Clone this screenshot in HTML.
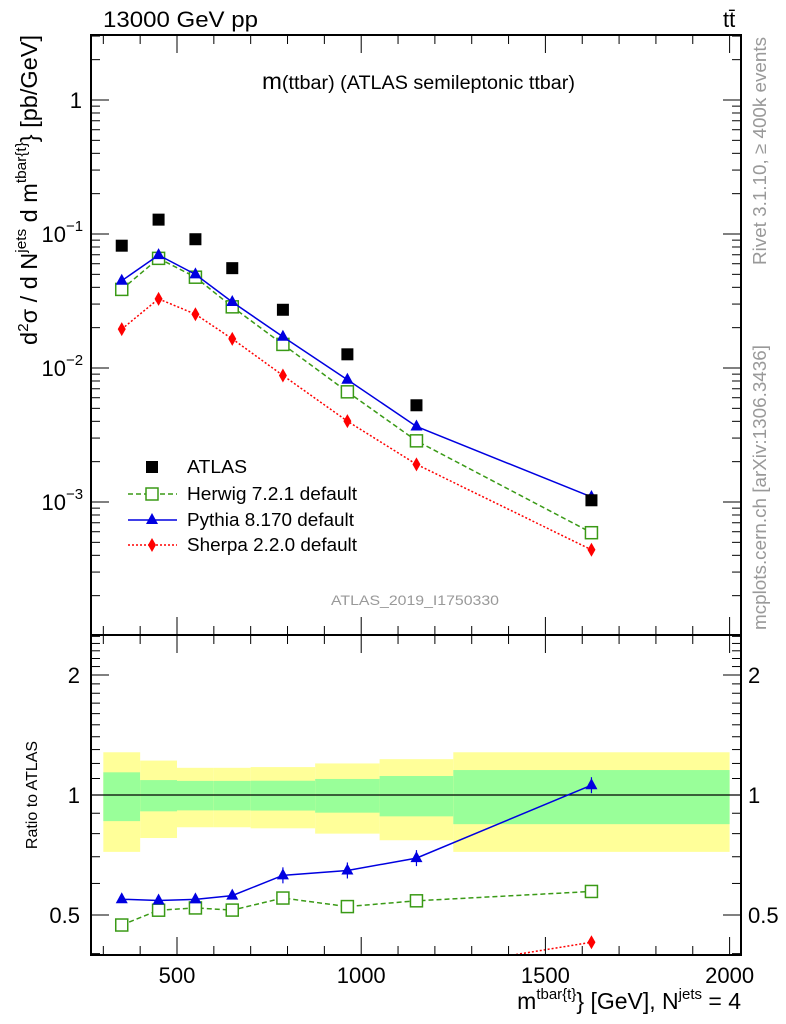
<!DOCTYPE html>
<html><head><meta charset="utf-8"><style>
html,body{margin:0;padding:0;background:#fff;}
svg{display:block;font-family:"Liberation Sans",sans-serif;}
</style></head><body>
<svg id="chart" width="786" height="1024" viewBox="0 0 786 1024" xmlns="http://www.w3.org/2000/svg">
<g id="bands"></g>
<g id="ratio"></g>
<g id="main"></g>
<g id="axes"></g>
<text x="103" y="27" font-size="22" textLength="155" lengthAdjust="spacingAndGlyphs">13000 GeV pp</text>
<text x="723" y="27" font-size="22">tt̄</text>
<text x="262" y="89" font-size="19" textLength="313" lengthAdjust="spacingAndGlyphs"><tspan font-size="23">m</tspan>(ttbar) (ATLAS semileptonic ttbar)</text>
<text x="415" y="605" font-size="14" fill="#999" text-anchor="middle" textLength="168" lengthAdjust="spacingAndGlyphs">ATLAS_2019_I1750330</text>
<text transform="translate(766,265) rotate(-90)" font-size="18" fill="#999" textLength="228" lengthAdjust="spacingAndGlyphs">Rivet 3.1.10, ≥ 400k events</text>
<text transform="translate(766,630) rotate(-90)" font-size="18" fill="#999" textLength="285" lengthAdjust="spacingAndGlyphs">mcplots.cern.ch [arXiv:1306.3436]</text>
<text transform="translate(37,345) rotate(-90)" font-size="23" textLength="310" lengthAdjust="spacingAndGlyphs">d<tspan font-size="15" dy="-9">2</tspan><tspan dy="9">σ  /  d N</tspan><tspan font-size="15" dy="-11">jets</tspan><tspan dy="11"> d m</tspan><tspan font-size="15" dy="-11">tbar{t}</tspan><tspan dy="11">} [pb/GeV]</tspan></text>
<text transform="translate(37,795) rotate(-90)" font-size="16" text-anchor="middle">Ratio to ATLAS</text>
<text x="741" y="1009" font-size="23" text-anchor="end">m<tspan font-size="15" dy="-10">tbar{t}</tspan><tspan dy="10">} [GeV], N</tspan><tspan font-size="15" dy="-10">jets</tspan><tspan dy="10"> = 4</tspan></text>
<g id="legend">
<rect x="146" y="461" width="12" height="12" fill="#000"/>
<text x="187" y="473" font-size="18" textLength="60" lengthAdjust="spacingAndGlyphs">ATLAS</text>
<line x1="128" y1="494" x2="177" y2="494" stroke="#3a9a16" stroke-width="1.5" stroke-dasharray="5,3"/>
<rect x="146" y="488" width="12" height="12" fill="#fff" stroke="#3a9a16" stroke-width="1.5"/>
<text x="187" y="500" font-size="18" textLength="170" lengthAdjust="spacingAndGlyphs">Herwig 7.2.1 default</text>
<line x1="128" y1="520" x2="177" y2="520" stroke="#0000e0" stroke-width="1.5"/>
<polygon points="152,513 158,524 146,524" fill="#0000e0"/>
<text x="187" y="526" font-size="18" textLength="167" lengthAdjust="spacingAndGlyphs">Pythia 8.170 default</text>
<line x1="128" y1="545" x2="177" y2="545" stroke="#f00" stroke-width="1.5" stroke-dasharray="2,2"/>
<polygon points="152,538 156,545 152,552 148,545" fill="#f00"/>
<text x="187" y="551" font-size="18" textLength="170" lengthAdjust="spacingAndGlyphs">Sherpa 2.2.0 default</text>
</g>
</svg>
<script>
const binEdges = [300,400,500,600,700,875,1050,1250,2000];
const binCenters = [350,450,550,650,787.5,962.5,1150,1625];
const atlas = [0.0818,0.128,0.0914,0.0556,0.0272,0.01265,0.00527,0.00103];
const herwig = [0.0386,0.0658,0.0476,0.0286,0.0150,0.00664,0.00286,0.00059];
const pythia = [0.0448,0.0696,0.050,0.0311,0.0171,0.00818,0.00366,0.00109];
const sherpa = [0.0195,0.0328,0.0252,0.0165,0.0088,0.00401,0.00191,0.00044];
const totErr = [0.28,0.22,0.17,0.17,0.175,0.2,0.23,0.28];
const statErr = [0.14,0.09,0.085,0.085,0.086,0.097,0.116,0.155];
const xTicks = [500,1000,1500,2000];
const ratioTicks = [0.5,1,2];

const NS="http://www.w3.org/2000/svg";
const L=91,R=741,T=35,MB=635,RB=955;
const X=m=>177+(m-500)*0.3684;
const Y=v=>100-134*Math.log10(v);
const YR=r=>795-120*Math.log2(r);
function mk(parent,tag,attrs){const e=document.createElementNS(NS,tag);for(const k in attrs)e.setAttribute(k,attrs[k]);document.getElementById(parent).appendChild(e);return e;}

for(let i=0;i<binCenters.length;i++){
  const x0=X(binEdges[i]),x1=X(binEdges[i+1]);
  let e=mk('bands','rect',{x:x0,y:YR(1+totErr[i]),width:x1-x0,height:YR(1-totErr[i])-YR(1+totErr[i]),fill:'#ffff99'});
  
  
  e=mk('bands','rect',{x:x0,y:YR(1+statErr[i]),width:x1-x0,height:YR(1-statErr[i])-YR(1+statErr[i]),fill:'#99ff99'});
  
  
}
let ln=mk('bands','line',{x1:L,x2:R,y1:YR(1),y2:YR(1),stroke:'#000','stroke-width':1.3});



function marker(g,type,x,y,col){
  let e;
  if(type==='sq') e=mk(g,'rect',{x:x-6,y:y-6,width:12,height:12,fill:'#fff',stroke:col,'stroke-width':1.5});
  else if(type==='tri') e=mk(g,'polygon',{points:`${x},${y-7} ${x+6},${y+4} ${x-6},${y+4}`,fill:col});
  else if(type==='dia') e=mk(g,'polygon',{points:`${x},${y-7} ${x+4},${y} ${x},${y+7} ${x-4},${y}`,fill:col});
  else e=mk(g,'rect',{x:x-6,y:y-6,width:12,height:12,fill:col});
  return e;
}
const series=[
  {name:'herwig',vals:herwig,col:'#3a9a16',dash:'5,3',m:'sq'},
  {name:'pythia',vals:pythia,col:'#0000e0',dash:'',m:'tri'},
  {name:'sherpa',vals:sherpa,col:'#f00',dash:'2,2',m:'dia'}
];
const defs=mk('ratio','clipPath',{id:'rc'});
const cr=document.createElementNS(NS,'rect');cr.setAttribute('x',L);cr.setAttribute('y',MB);cr.setAttribute('width',R-L);cr.setAttribute('height',RB-MB);defs.appendChild(cr);
// pythia error bars
[4,5,6,7].forEach(i=>{
  const x=X(binCenters[i]),y=YR(pythia[i]/atlas[i]);
  const e=mk('ratio','line',{x1:x,x2:x,y1:y-8,y2:y+8,stroke:'#0000e0','stroke-width':1.2});
  
  
});
for(const s of series){
  const pts=binCenters.map((c,i)=>`${X(c)},${Y(s.vals[i])}`).join(' ');
  let p=mk('main','polyline',{points:pts,fill:'none',stroke:s.col,'stroke-width':1.5,'stroke-dasharray':s.dash});
  
  
  const rp=binCenters.map((c,i)=>`${X(c)},${YR(s.vals[i]/atlas[i])}`).join(' ');
  mk('ratio','g',{'clip-path':'url(#rc)',id:'rg-'+s.name});
  let q=mk('rg-'+s.name,'polyline',{points:rp,fill:'none',stroke:s.col,'stroke-width':1.5,'stroke-dasharray':s.dash});
  
  
  binCenters.forEach((c,i)=>{
    let e=marker('main',s.m,X(c),Y(s.vals[i]),s.col);
    
    
    e=marker('rg-'+s.name,s.m,X(c),YR(s.vals[i]/atlas[i]),s.col);
    
    
  });
}
binCenters.forEach((c,i)=>{
  const e=marker('main','data',X(c),Y(atlas[i]),'#000');
  
  
});

function line(x1,y1,x2,y2,w){mk('axes','line',{x1,y1,x2,y2,stroke:'#000','stroke-width':w||1});}
function txt(x,y,s,anchor,size){const t=mk('axes','text',{x,y,'font-size':size||22,'text-anchor':anchor||'middle'});t.textContent=s;return t;}
let fr=mk('axes','rect',{x:L,y:T,width:R-L,height:RB-T,fill:'none',stroke:'#000','stroke-width':2});


line(L,MB,R,MB,2);
for(let m=300;m<=2000;m+=100){
  const x=X(m),maj=m%500===0,len=maj?18:9;
  line(x,RB,x,RB-len);line(x,MB,x,MB-len);line(x,MB,x,MB+len);line(x,T,x,T+len);
}
xTicks.forEach(m=>txt(X(m),983,String(m)));
for(let d=-4;d<=0;d++){
  for(let k=1;k<10;k++){
    const v=k*Math.pow(10,d),y=Y(v);
    if(y<T||y>MB)continue;
    const len=k===1?18:9;
    line(L,y,L+len,y);line(R,y,R-len,y);
  }
}
txt(82,108,'1','end');
[-1,-2,-3].forEach(d=>{
  txt(66,Y(Math.pow(10,d))+8,'10','end');
  const s=mk('axes','text',{x:66,y:Y(Math.pow(10,d))-3,'font-size':15,'text-anchor':'start'});
  s.textContent='−'+(-d);
  
  
});
for(let r=0.4;r<=2.5;r=Math.round((r+0.1)*10)/10){
  const y=YR(r);if(y<MB||y>RB)continue;
  const maj=ratioTicks.includes(r),len=maj?18:9;
  line(L,y,L+len,y);line(R,y,R-len,y);
}
ratioTicks.forEach(r=>{txt(80,YR(r)+8,String(r),'end');txt(748,YR(r)+8,String(r),'start');});
</script>
</body></html>
